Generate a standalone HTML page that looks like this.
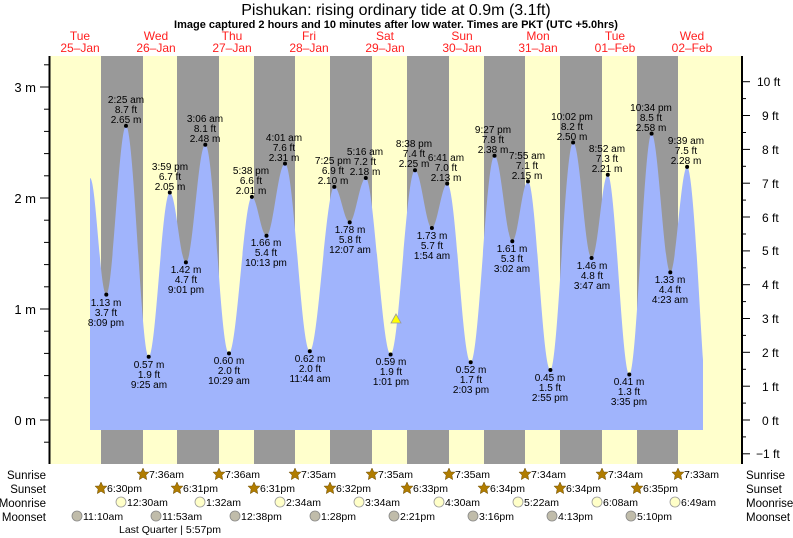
<!DOCTYPE html>
<html><head><meta charset="utf-8"><style>
html,body{margin:0;padding:0;background:#fff;}
svg{display:block;font-family:"Liberation Sans",sans-serif;}
</style></head><body>
<svg width="793" height="538" viewBox="0 0 793 538" xmlns="http://www.w3.org/2000/svg">
<rect x="50" y="56" width="692" height="408" fill="#ffffcc"/>
<g fill="#999">
<rect x="101" y="56" width="42" height="408"/>
<rect x="177" y="56" width="42" height="408"/>
<rect x="254" y="56" width="41" height="408"/>
<rect x="330" y="56" width="42" height="408"/>
<rect x="407" y="56" width="42" height="408"/>
<rect x="484" y="56" width="41" height="408"/>
<rect x="560" y="56" width="42" height="408"/>
<rect x="637" y="56" width="41" height="408"/>
</g>
<path fill="#a0b4fc" d="M90,430 L90,178
C96,178 100,294.6 106.3,294.6
C113,294.6 119,125.9 126,125.9
C134,125.9 141,356.7 148.7,356.7
C156,356.7 162,192.5 169.8,192.5
C176,192.5 180,262.4 185.9,262.4
C193,262.4 198,144.7 205.3,144.7
C214,144.7 220,353.4 229,353.4
C237,353.4 244,196.9 251.9,196.9
C257,196.9 261,235.7 266.5,235.7
C273,235.7 278,163.6 285,163.6
C294,163.6 301,351.2 309.8,351.2
C318,351.2 326,186.9 334.3,186.9
C340,186.9 344,222.4 349.7,222.4
C355,222.4 360,178 365.8,178
C374,178 382,354.5 390.6,354.5
C399,354.5 406,170.2 415,170.2
C421,170.2 426,228 431.9,228
C437,228 442,183.6 447.2,183.6
C456,183.6 462,362.3 470.7,362.3
C479,362.3 486,155.8 494.5,155.8
C501,155.8 506,241.3 512.3,241.3
C518,241.3 522,181.4 528,181.4
C536,181.4 542,370 550.4,370
C558,370 565,142.5 573.1,142.5
C580,142.5 585,258 591.6,258
C598,258 602,174.7 607.8,174.7
C615,174.7 622,374.5 629.3,374.5
C637,374.5 644,133.6 651.6,133.6
C658,133.6 664,272.4 670.3,272.4
C676,272.4 681,166.9 687.1,166.9
C693,166.9 699,300 703,360 L703,430 Z"/>
<polygon points="391,323 401,323 396,314" fill="#ffff00" stroke="#999" stroke-width="0.8"/>
<line x1="49.5" y1="56" x2="49.5" y2="464" stroke="#000" stroke-width="2"/>
<line x1="742" y1="56" x2="742" y2="464" stroke="#000" stroke-width="2"/>
<g stroke="#000" stroke-width="1">
<line x1="40" y1="87" x2="49" y2="87"/><line x1="40" y1="198" x2="49" y2="198"/><line x1="40" y1="309" x2="49" y2="309"/><line x1="40" y1="420" x2="49" y2="420"/>
<line x1="44" y1="64.8" x2="49" y2="64.8"/><line x1="44" y1="109.2" x2="49" y2="109.2"/><line x1="44" y1="131.4" x2="49" y2="131.4"/><line x1="44" y1="153.6" x2="49" y2="153.6"/><line x1="44" y1="175.8" x2="49" y2="175.8"/>
<line x1="44" y1="220.2" x2="49" y2="220.2"/><line x1="44" y1="242.4" x2="49" y2="242.4"/><line x1="44" y1="264.6" x2="49" y2="264.6"/><line x1="44" y1="286.8" x2="49" y2="286.8"/>
<line x1="44" y1="331.2" x2="49" y2="331.2"/><line x1="44" y1="353.4" x2="49" y2="353.4"/><line x1="44" y1="375.6" x2="49" y2="375.6"/><line x1="44" y1="397.8" x2="49" y2="397.8"/><line x1="44" y1="442.2" x2="49" y2="442.2"/>
<line x1="743" y1="81.7" x2="750" y2="81.7"/><line x1="743" y1="115.5" x2="750" y2="115.5"/><line x1="743" y1="149.4" x2="750" y2="149.4"/><line x1="743" y1="183.2" x2="750" y2="183.2"/><line x1="743" y1="217" x2="750" y2="217"/><line x1="743" y1="250.9" x2="750" y2="250.9"/><line x1="743" y1="284.7" x2="750" y2="284.7"/><line x1="743" y1="318.5" x2="750" y2="318.5"/><line x1="743" y1="352.3" x2="750" y2="352.3"/><line x1="743" y1="386.2" x2="750" y2="386.2"/><line x1="743" y1="420" x2="750" y2="420"/><line x1="743" y1="453.8" x2="750" y2="453.8"/>
<line x1="743" y1="98.6" x2="746" y2="98.6"/><line x1="743" y1="132.5" x2="746" y2="132.5"/><line x1="743" y1="166.3" x2="746" y2="166.3"/><line x1="743" y1="200.1" x2="746" y2="200.1"/><line x1="743" y1="234" x2="746" y2="234"/><line x1="743" y1="267.8" x2="746" y2="267.8"/><line x1="743" y1="301.6" x2="746" y2="301.6"/><line x1="743" y1="335.4" x2="746" y2="335.4"/><line x1="743" y1="369.3" x2="746" y2="369.3"/><line x1="743" y1="403.1" x2="746" y2="403.1"/><line x1="743" y1="436.9" x2="746" y2="436.9"/>
</g>
<g font-size="13" fill="#000" text-anchor="end">
<text x="36" y="92">3 m</text><text x="36" y="203">2 m</text><text x="36" y="314">1 m</text><text x="36" y="425">0 m</text>
</g>
<g font-size="12" fill="#000">
<text x="757" y="86">10 ft</text><text x="762" y="120">9 ft</text><text x="762" y="154">8 ft</text><text x="762" y="188">7 ft</text><text x="762" y="222">6 ft</text><text x="762" y="255">5 ft</text><text x="762" y="289">4 ft</text><text x="762" y="323">3 ft</text><text x="762" y="357">2 ft</text><text x="762" y="391">1 ft</text><text x="762" y="425">0 ft</text><text x="756" y="458">−1 ft</text>
</g>
<text x="396" y="15" font-size="16" text-anchor="middle">Pishukan: rising  ordinary tide at 0.9m (3.1ft)</text>
<text x="396" y="28" font-size="11" font-weight="bold" text-anchor="middle">Image captured 2 hours and 10 minutes after low water. Times are PKT (UTC +5.0hrs)</text>
<g font-size="12" fill="#ff2020" text-anchor="middle">
<text x="80" y="40">Tue</text><text x="80" y="52">25–Jan</text>
<text x="156" y="40">Wed</text><text x="156" y="52">26–Jan</text>
<text x="232" y="40">Thu</text><text x="232" y="52">27–Jan</text>
<text x="309" y="40">Fri</text><text x="309" y="52">28–Jan</text>
<text x="385" y="40">Sat</text><text x="385" y="52">29–Jan</text>
<text x="462" y="40">Sun</text><text x="462" y="52">30–Jan</text>
<text x="538" y="40">Mon</text><text x="538" y="52">31–Jan</text>
<text x="615" y="40">Tue</text><text x="615" y="52">01–Feb</text>
<text x="692" y="40">Wed</text><text x="692" y="52">02–Feb</text>
</g>
<g fill="#000">
<circle cx="106.3" cy="294.6" r="2"/><circle cx="126" cy="125.9" r="2"/><circle cx="148.7" cy="356.7" r="2"/><circle cx="169.8" cy="192.5" r="2"/><circle cx="185.9" cy="262.4" r="2"/><circle cx="205.3" cy="144.7" r="2"/><circle cx="229" cy="353.4" r="2"/><circle cx="251.9" cy="196.9" r="2"/><circle cx="266.5" cy="235.7" r="2"/><circle cx="285" cy="163.6" r="2"/><circle cx="309.8" cy="351.2" r="2"/><circle cx="334.3" cy="186.9" r="2"/><circle cx="349.7" cy="222.4" r="2"/><circle cx="365.8" cy="178" r="2"/><circle cx="390.6" cy="354.5" r="2"/><circle cx="415" cy="170.2" r="2"/><circle cx="431.9" cy="228" r="2"/><circle cx="447.2" cy="183.6" r="2"/><circle cx="470.7" cy="362.3" r="2"/><circle cx="494.5" cy="155.8" r="2"/><circle cx="512.3" cy="241.3" r="2"/><circle cx="528" cy="181.4" r="2"/><circle cx="550.4" cy="370" r="2"/><circle cx="573.1" cy="142.5" r="2"/><circle cx="591.6" cy="258" r="2"/><circle cx="607.8" cy="174.7" r="2"/><circle cx="629.3" cy="374.5" r="2"/><circle cx="651.6" cy="133.6" r="2"/><circle cx="670.3" cy="272.4" r="2"/><circle cx="687.1" cy="166.9" r="2"/>
</g>
<g font-size="10" fill="#000" text-anchor="middle">
<text x="106" y="306">1.13 m</text><text x="106" y="316">3.7 ft</text><text x="106" y="326">8:09 pm</text>
<text x="126" y="103">2:25 am</text><text x="126" y="113">8.7 ft</text><text x="126" y="123">2.65 m</text>
<text x="149" y="368">0.57 m</text><text x="149" y="378">1.9 ft</text><text x="149" y="388">9:25 am</text>
<text x="170" y="170">3:59 pm</text><text x="170" y="180">6.7 ft</text><text x="170" y="190">2.05 m</text>
<text x="186" y="273">1.42 m</text><text x="186" y="283">4.7 ft</text><text x="186" y="293">9:01 pm</text>
<text x="205" y="122">3:06 am</text><text x="205" y="132">8.1 ft</text><text x="205" y="142">2.48 m</text>
<text x="229" y="364">0.60 m</text><text x="229" y="374">2.0 ft</text><text x="229" y="384">10:29 am</text>
<text x="251" y="174">5:38 pm</text><text x="251" y="184">6.6 ft</text><text x="251" y="194">2.01 m</text>
<text x="266" y="246">1.66 m</text><text x="266" y="256">5.4 ft</text><text x="266" y="266">10:13 pm</text>
<text x="284" y="141">4:01 am</text><text x="284" y="151">7.6 ft</text><text x="284" y="161">2.31 m</text>
<text x="310" y="362">0.62 m</text><text x="310" y="372">2.0 ft</text><text x="310" y="382">11:44 am</text>
<text x="333" y="164">7:25 pm</text><text x="333" y="174">6.9 ft</text><text x="333" y="184">2.10 m</text>
<text x="350" y="233">1.78 m</text><text x="350" y="243">5.8 ft</text><text x="350" y="253">12:07 am</text>
<text x="365" y="155">5:16 am</text><text x="365" y="165">7.2 ft</text><text x="365" y="175">2.18 m</text>
<text x="391" y="365">0.59 m</text><text x="391" y="375">1.9 ft</text><text x="391" y="385">1:01 pm</text>
<text x="414" y="147">8:38 pm</text><text x="414" y="157">7.4 ft</text><text x="414" y="167">2.25 m</text>
<text x="432" y="239">1.73 m</text><text x="432" y="249">5.7 ft</text><text x="432" y="259">1:54 am</text>
<text x="446" y="161">6:41 am</text><text x="446" y="171">7.0 ft</text><text x="446" y="181">2.13 m</text>
<text x="471" y="373">0.52 m</text><text x="471" y="383">1.7 ft</text><text x="471" y="393">2:03 pm</text>
<text x="493" y="133">9:27 pm</text><text x="493" y="143">7.8 ft</text><text x="493" y="153">2.38 m</text>
<text x="512" y="252">1.61 m</text><text x="512" y="262">5.3 ft</text><text x="512" y="272">3:02 am</text>
<text x="527" y="159">7:55 am</text><text x="527" y="169">7.1 ft</text><text x="527" y="179">2.15 m</text>
<text x="550" y="381">0.45 m</text><text x="550" y="391">1.5 ft</text><text x="550" y="401">2:55 pm</text>
<text x="572" y="120">10:02 pm</text><text x="572" y="130">8.2 ft</text><text x="572" y="140">2.50 m</text>
<text x="592" y="269">1.46 m</text><text x="592" y="279">4.8 ft</text><text x="592" y="289">3:47 am</text>
<text x="607" y="152">8:52 am</text><text x="607" y="162">7.3 ft</text><text x="607" y="172">2.21 m</text>
<text x="629" y="385">0.41 m</text><text x="629" y="395">1.3 ft</text><text x="629" y="405">3:35 pm</text>
<text x="651" y="111">10:34 pm</text><text x="651" y="121">8.5 ft</text><text x="651" y="131">2.58 m</text>
<text x="670" y="283">1.33 m</text><text x="670" y="293">4.4 ft</text><text x="670" y="303">4:23 am</text>
<text x="686" y="144">9:39 am</text><text x="686" y="154">7.5 ft</text><text x="686" y="164">2.28 m</text>
</g>
<g font-size="11.5" fill="#000">
<text x="46" y="479" text-anchor="end">Sunrise</text><text x="46" y="493" text-anchor="end">Sunset</text><text x="46" y="507" text-anchor="end">Moonrise</text><text x="46" y="521" text-anchor="end">Moonset</text>
<text x="746" y="479">Sunrise</text><text x="746" y="493">Sunset</text><text x="746" y="507">Moonrise</text><text x="746" y="521">Moonset</text>
</g>
<defs><polygon id="st" points="0,-6 1.8,-2 6,-1.9 2.9,1.2 3.7,5.6 0,3.3 -3.7,5.6 -2.9,1.2 -6,-1.9 -1.8,-2" fill="#b07c00" stroke="#6b4a00" stroke-width="0.5"/></defs>
<g>
<use href="#st" x="143" y="474"/><use href="#st" x="219" y="474"/><use href="#st" x="295" y="474"/><use href="#st" x="372" y="474"/><use href="#st" x="449" y="474"/><use href="#st" x="525" y="474"/><use href="#st" x="602" y="474"/><use href="#st" x="678" y="474"/>
<use href="#st" x="101" y="488"/><use href="#st" x="177" y="488"/><use href="#st" x="254" y="488"/><use href="#st" x="330" y="488"/><use href="#st" x="407" y="488"/><use href="#st" x="484" y="488"/><use href="#st" x="560" y="488"/><use href="#st" x="637" y="488"/>
</g>
<g fill="#ffffc8" stroke="#999" stroke-width="0.8">
<circle cx="121" cy="502" r="5"/><circle cx="200" cy="502" r="5"/><circle cx="280" cy="502" r="5"/><circle cx="359" cy="502" r="5"/><circle cx="439" cy="502" r="5"/><circle cx="518" cy="502" r="5"/><circle cx="597" cy="502" r="5"/><circle cx="675" cy="502" r="5"/>
</g>
<g fill="#c0bcaa" stroke="#888" stroke-width="0.8">
<circle cx="77" cy="516" r="5"/><circle cx="156" cy="516" r="5"/><circle cx="235" cy="516" r="5"/><circle cx="315" cy="516" r="5"/><circle cx="394" cy="516" r="5"/><circle cx="473" cy="516" r="5"/><circle cx="552" cy="516" r="5"/><circle cx="631" cy="516" r="5"/>
</g>
<g font-size="10.5" fill="#000">
<text x="149" y="478">7:36am</text><text x="225" y="478">7:36am</text><text x="301" y="478">7:35am</text><text x="378" y="478">7:35am</text><text x="455" y="478">7:35am</text><text x="531" y="478">7:34am</text><text x="608" y="478">7:34am</text><text x="684" y="478">7:33am</text>
<text x="107" y="492">6:30pm</text><text x="183" y="492">6:31pm</text><text x="260" y="492">6:31pm</text><text x="336" y="492">6:32pm</text><text x="413" y="492">6:33pm</text><text x="490" y="492">6:34pm</text><text x="566" y="492">6:34pm</text><text x="643" y="492">6:35pm</text>
<text x="127" y="506">12:30am</text><text x="206" y="506">1:32am</text><text x="286" y="506">2:34am</text><text x="365" y="506">3:34am</text><text x="445" y="506">4:30am</text><text x="524" y="506">5:22am</text><text x="603" y="506">6:08am</text><text x="681" y="506">6:49am</text>
<text x="83" y="520">11:10am</text><text x="162" y="520">11:53am</text><text x="241" y="520">12:38pm</text><text x="321" y="520">1:28pm</text><text x="400" y="520">2:21pm</text><text x="479" y="520">3:16pm</text><text x="558" y="520">4:13pm</text><text x="637" y="520">5:10pm</text>
<text x="119" y="533">Last Quarter | 5:57pm</text>
</g>
</svg>
</body></html>
